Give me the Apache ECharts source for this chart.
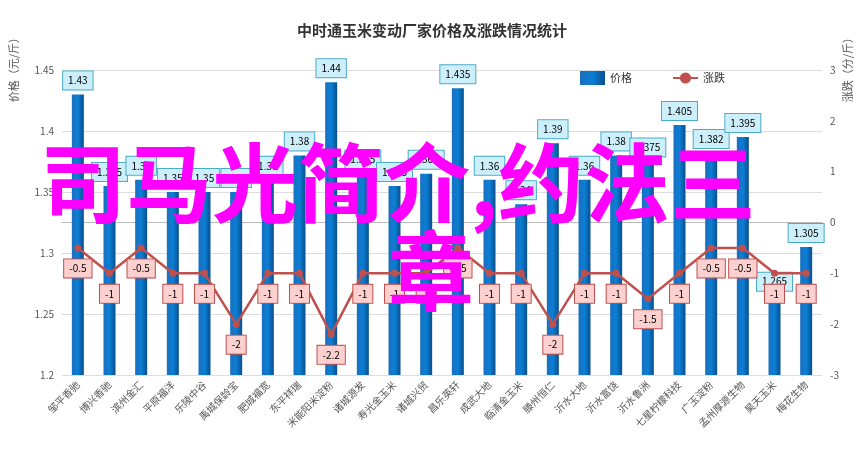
<!DOCTYPE html><html><head><meta charset="utf-8"><script src="https://cdn.jsdelivr.net/npm/echarts@6/dist/echarts.min.js"></script></head><body style="margin:0"><div id="c" style="width:864px;height:458px"></div><script>
const categories=['邹平香驰','博兴香驰','滨州金汇','平原福洋','乐陵中谷','禹城保龄宝','肥城福宽','东平祥瑞','米能阳米淀粉','诸城源发','寿光金玉米','诸城兴贸','昌乐英轩','成武大地','临清金玉米','滕州恒仁','沂水大地','沂水富饶','沂水鲁洲','七星柠檬科技','广玉淀粉','孟州厚源生物','昊天玉米','梅花生物'];
const prices=[1.43,1.355,1.36,1.35,1.35,1.35,1.36,1.38,1.44,1.365,1.355,1.365,1.435,1.36,1.34,1.39,1.36,1.38,1.375,1.405,1.382,1.395,1.265,1.305];
const changes=[-0.5,-1,-0.5,-1,-1,-2,-1,-1,-2.2,-1,-1,-1,-0.5,-1,-1,-2,-1,-1,-1.5,-1,-0.5,-0.5,-1,-1];
const leftTicks=[1.2,1.45,0.05], rightTicks=[-3,3,1];
const c=echarts.init(document.getElementById('c'));
const f='"Noto Sans CJK SC",sans-serif';
c.setOption({
 textStyle:{fontFamily:f},
 title:{text:'中时通玉米变动厂家价格及涨跌情况统计',left:'center',top:18,textStyle:{fontSize:15,fontWeight:'bold',color:'#333'}},
 legend:{top:66,left:575,itemGap:40,textStyle:{fontSize:11,color:'#333'},data:[{name:'价格',icon:'rect'},{name:'涨跌'}]},
 grid:{left:62,right:42,top:70,bottom:83},
 xAxis:{type:'category',data:categories,axisTick:{show:false},axisLine:{lineStyle:{color:'#bbb'}},axisLabel:{rotate:45,fontSize:10,color:'#555',interval:0}},
 yAxis:[{type:'value',min:leftTicks[0],max:leftTicks[1],interval:leftTicks[2],axisLabel:{fontSize:10,color:'#555',formatter:v=>v.toFixed(2).replace(/0$/,'').replace(/\.0$/,'.0')},splitLine:{lineStyle:{color:'#ddd'}}},
  {type:'value',min:rightTicks[0],max:rightTicks[1],interval:rightTicks[2],position:'right',axisLabel:{fontSize:10,color:'#555'},splitLine:{show:false}}],
 series:[{name:'价格',type:'bar',data:prices,barWidth:12,itemStyle:{color:new echarts.graphic.LinearGradient(0,0,1,0,[{offset:0,color:'#1a6fc0'},{offset:0.5,color:'#0b7fd4'},{offset:1,color:'#0a4f8f'}])},
   label:{show:true,position:'top',fontSize:10,color:'#000',backgroundColor:'#cdeffb',borderColor:'#4bacc6',borderWidth:1,padding:[4,5]}},
  {name:'涨跌',type:'line',yAxisIndex:1,data:changes,color:'#c0504d',lineStyle:{width:2.5},symbol:'circle',symbolSize:7,
   label:{show:true,position:'bottom',distance:8,fontSize:10,color:'#000',backgroundColor:'#fbd0cf',borderColor:'#c0504d',borderWidth:1,padding:[4,5]}}],
 graphic:[
  {type:'text',left:8,top:32,rotation:Math.PI/2,style:{text:'价格（元/斤）',font:'11px "Noto Sans CJK SC"',fill:'#555'}},
  {type:'text',left:842,top:32,rotation:Math.PI/2,style:{text:'涨跌（分/斤）',font:'11px "Noto Sans CJK SC"',fill:'#555'}},
  {type:'text',left:40,top:140,z:100,style:{text:'司马光简介,约法三',font:'bold 86px "Noto Sans CJK SC"',fill:'#ff00ff'}},
  {type:'text',left:388,top:228,z:100,style:{text:'章',font:'bold 86px "Noto Sans CJK SC"',fill:'#ff00ff'}}]
});
</script></body></html>
